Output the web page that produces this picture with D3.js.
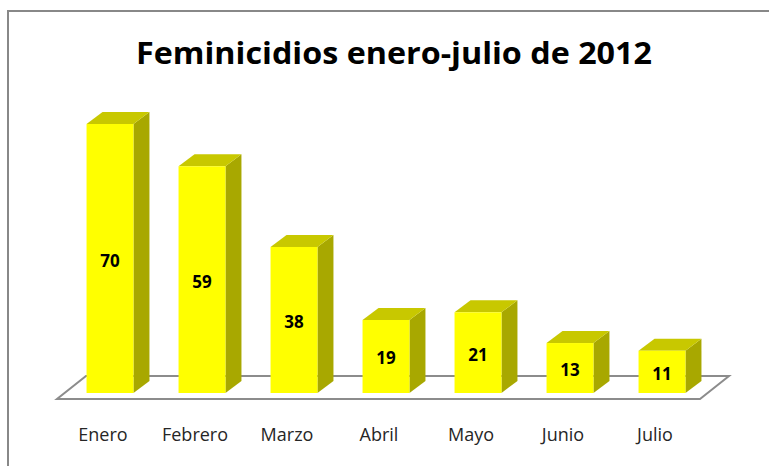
<!DOCTYPE html>
<html>
<head>
<meta charset="utf-8">
<script src="https://cdn.jsdelivr.net/npm/d3@7"></script>
<style>
  body { margin: 0; background: #fff; }
</style>
</head>
<body>
<div id="chart"></div>
<script>
const meses = ["Enero", "Febrero", "Marzo", "Abril", "Mayo", "Junio", "Julio"];
const feminicidios = [70, 59, 38, 19, 21, 13, 11];
const titulo = "Feminicidios enero-julio de 2012";

const largura = 769;
const altura = 466;
const prof = { dx: 16, dy: -12 };   // profundidade 3D das barras
const piso = { dx: 29, dy: -23 };   // profundidade do piso

const dados = meses.map((m, i) => ({ mes: m, valor: feminicidios[i] }));

const svg = d3.select("#chart").append("svg")
    .attr("width", largura)
    .attr("height", altura)
    .style("font-family", "'Open Sans', sans-serif");

// borda do gráfico
svg.append("rect")
    .attr("x", 8).attr("y", 11)
    .attr("width", largura + 10).attr("height", altura + 10)
    .attr("fill", "none")
    .attr("stroke", "#888")
    .attr("stroke-width", 2);

const escalaX = d3.scaleBand()
    .domain(meses)
    .range([64, 708])
    .paddingInner(0.49)
    .paddingOuter(0.245);

const escalaY = d3.scaleLinear()
    .domain([0, 70])
    .range([393, 124]);

// piso em perspectiva
const x0 = escalaX.range()[0] - 7, x1 = escalaX.range()[1] - 8;
const yBase = escalaY(0) + 6;
svg.append("path")
    .attr("d", d3.line()([
        [x0, yBase], [x1, yBase],
        [x1 + piso.dx, yBase + piso.dy], [x0 + piso.dx, yBase + piso.dy]
    ]) + "Z")
    .attr("fill", "#fff")
    .attr("stroke", "#8c8c8c")
    .attr("stroke-width", 2);

const barras = svg.selectAll(".barra")
    .data(dados)
    .enter()
    .append("g")
    .attr("class", "barra");

const w = escalaX.bandwidth();

// lado
barras.append("path")
    .attr("d", d => {
        const x = escalaX(d.mes) + w, yt = escalaY(d.valor), yb = escalaY(0);
        return d3.line()([[x, yt], [x + prof.dx, yt + prof.dy], [x + prof.dx, yb + prof.dy], [x, yb]]) + "Z";
    })
    .attr("fill", "#a8a800");

// topo
barras.append("path")
    .attr("d", d => {
        const x = escalaX(d.mes), yt = escalaY(d.valor);
        return d3.line()([[x, yt], [x + prof.dx, yt + prof.dy], [x + w + prof.dx, yt + prof.dy], [x + w, yt]]) + "Z";
    })
    .attr("fill", "#c8c800");

// frente
barras.append("rect")
    .attr("x", d => escalaX(d.mes))
    .attr("y", d => escalaY(d.valor))
    .attr("width", w)
    .attr("height", d => escalaY(0) - escalaY(d.valor))
    .attr("fill", "#ffff00");

// rótulos de valor
barras.append("text")
    .attr("x", d => escalaX(d.mes) + w / 2)
    .attr("y", d => (escalaY(d.valor) + escalaY(0)) / 2 + 8)
    .attr("text-anchor", "middle")
    .style("font-size", "17px")
    .style("font-weight", "bold")
    .attr("fill", "#000")
    .text(d => d.valor);

// rótulos das categorias
svg.selectAll(".cat")
    .data(meses)
    .enter()
    .append("text")
    .attr("class", "cat")
    .attr("x", d => escalaX(d) + w / 2 - 7)
    .attr("y", 441)
    .attr("text-anchor", "middle")
    .style("font-size", "18px")
    .attr("fill", "#262626")
    .text(d => d);

// título
svg.append("text")
    .attr("x", 394)
    .attr("y", 64)
    .attr("text-anchor", "middle")
    .style("font-size", "30px")
    .style("font-weight", "bold")
    .attr("fill", "#000")
    .attr("textLength", 516)
    .attr("lengthAdjust", "spacingAndGlyphs")
    .text(titulo);
</script>
</body>
</html>
